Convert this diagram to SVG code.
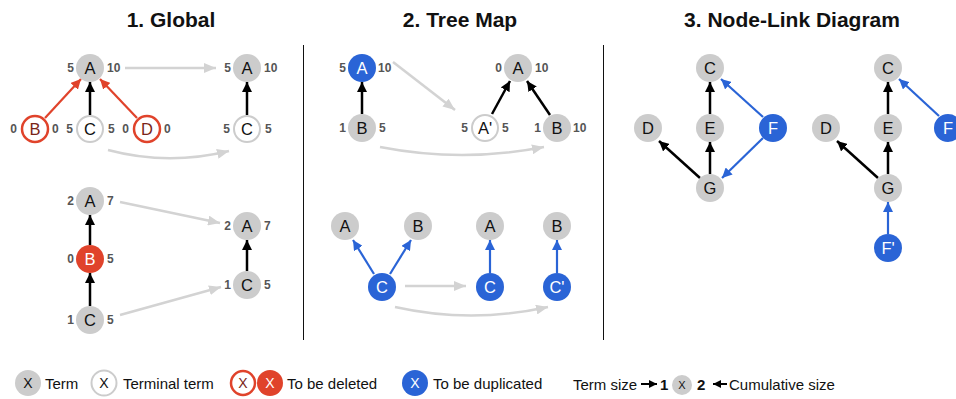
<svg xmlns="http://www.w3.org/2000/svg" width="956" height="399" viewBox="0 0 956 399">
<defs>
<style>
text{font-family:"Liberation Sans",Arial,sans-serif}
.title{font-size:21px;font-weight:bold;fill:#111;text-anchor:middle}
.nl{font-size:16.5px;text-anchor:middle;fill:#111}
.nw{font-size:16.5px;text-anchor:middle;fill:#fff}
.num{font-size:12px;font-weight:bold;fill:#555}
.l{text-anchor:end}
.g{fill:#cccccc}
.t{fill:#fff;stroke:#cccccc;stroke-width:2}
.rd{fill:#fff;stroke:#e0432b;stroke-width:2.5}
.rf{fill:#e0432b}
.bf{fill:#2a64d6}
.ek{stroke:#000;stroke-width:2.5;fill:none}
.er{stroke:#e0432b;stroke-width:2.2;fill:none}
.eb{stroke:#2a64d6;stroke-width:2.2;fill:none}
.eg{stroke:#d3d3d3;stroke-width:2.5;fill:none}
.leg{font-size:15px;fill:#111}
.lx{font-size:14px}
.div{stroke:#111;stroke-width:1}
</style>
<marker id="ak" markerWidth="10" markerHeight="10" refX="10" refY="5" orient="auto" markerUnits="userSpaceOnUse"><path d="M0,0 L10,5 L0,10 Z" fill="#000"/></marker>
<marker id="ar" markerWidth="10" markerHeight="10" refX="10" refY="5" orient="auto" markerUnits="userSpaceOnUse"><path d="M0,0 L10,5 L0,10 Z" fill="#e0432b"/></marker>
<marker id="ab" markerWidth="10" markerHeight="10" refX="10" refY="5" orient="auto" markerUnits="userSpaceOnUse"><path d="M0,0 L10,5 L0,10 Z" fill="#2a64d6"/></marker>
<marker id="ag" markerWidth="12" markerHeight="10" refX="12" refY="5" orient="auto" markerUnits="userSpaceOnUse"><path d="M0,0 L12,5 L0,10 Z" fill="#d3d3d3"/></marker>
<marker id="as" markerWidth="8" markerHeight="8" refX="8" refY="4" orient="auto" markerUnits="userSpaceOnUse"><path d="M0,0 L8,4 L0,8 Z" fill="#000"/></marker>
</defs>
<rect width="956" height="399" fill="#fff"/>

<text class="title" x="171" y="27">1. Global</text>
<text class="title" x="460" y="27">2. Tree Map</text>
<text class="title" x="792" y="27">3. Node-Link Diagram</text>

<line class="div" x1="303.5" y1="45" x2="303.5" y2="340"/>
<line class="div" x1="603.5" y1="45" x2="603.5" y2="340"/>

<g id="connectors">
<line class="er" x1="45" y1="118" x2="81" y2="79" marker-end="url(#ar)"/>
<line class="ek" x1="90" y1="115" x2="90" y2="82" marker-end="url(#ak)"/>
<line class="er" x1="137" y1="118" x2="100" y2="79" marker-end="url(#ar)"/>
<line class="eg" x1="125" y1="68" x2="216" y2="68" marker-end="url(#ag)"/>
<path class="eg" d="M108,150 Q168,166 229,151" marker-end="url(#ag)"/>
<line class="ek" x1="247" y1="115" x2="247" y2="82" marker-end="url(#ak)"/>
<line class="ek" x1="90" y1="245" x2="90" y2="215" marker-end="url(#ak)"/>
<line class="ek" x1="90" y1="306" x2="90" y2="273" marker-end="url(#ak)"/>
<line class="eg" x1="120" y1="202" x2="220" y2="223" marker-end="url(#ag)"/>
<line class="eg" x1="120" y1="315" x2="221" y2="287" marker-end="url(#ag)"/>
<line class="ek" x1="247" y1="271" x2="247" y2="240" marker-end="url(#ak)"/>
<line class="ek" x1="362" y1="114" x2="362" y2="82" marker-end="url(#ak)"/>
<line class="eg" x1="393" y1="62" x2="455" y2="110" marker-end="url(#ag)"/>
<path class="eg" d="M380,147 Q462,163 544,147" marker-end="url(#ag)"/>
<line class="ek" x1="492" y1="114" x2="510" y2="81" marker-end="url(#ak)"/>
<line class="ek" x1="550" y1="115" x2="527" y2="81" marker-end="url(#ak)"/>
<line class="eb" x1="374" y1="274" x2="353" y2="240" marker-end="url(#ab)"/>
<line class="eb" x1="390" y1="274" x2="411" y2="240" marker-end="url(#ab)"/>
<line class="eg" x1="405" y1="286" x2="466" y2="286" marker-end="url(#ag)"/>
<path class="eg" d="M395,307 Q471,324 548,307" marker-end="url(#ag)"/>
<line class="eb" x1="490" y1="273" x2="490" y2="240" marker-end="url(#ab)"/>
<line class="eb" x1="557" y1="273" x2="557" y2="240" marker-end="url(#ab)"/>
<line class="ek" x1="710" y1="114" x2="710" y2="82" marker-end="url(#ak)"/>
<line class="ek" x1="710" y1="174" x2="710" y2="142" marker-end="url(#ak)"/>
<line class="ek" x1="700" y1="178" x2="659" y2="141" marker-end="url(#ak)"/>
<line class="eb" x1="763" y1="117" x2="721" y2="79" marker-end="url(#ab)"/>
<line class="eb" x1="763" y1="138" x2="722" y2="178" marker-end="url(#ab)"/>
<line class="ek" x1="888" y1="114" x2="888" y2="82" marker-end="url(#ak)"/>
<line class="ek" x1="888" y1="174" x2="888" y2="142" marker-end="url(#ak)"/>
<line class="ek" x1="878" y1="178" x2="837" y2="141" marker-end="url(#ak)"/>
<line class="eb" x1="939" y1="116" x2="899" y2="79" marker-end="url(#ab)"/>
<line class="eb" x1="888" y1="234" x2="888" y2="202" marker-end="url(#ab)"/>
<line x1="641" y1="384" x2="657" y2="384" stroke="#000" stroke-width="2" marker-end="url(#as)"/>
<line x1="727" y1="384" x2="713" y2="384" stroke="#000" stroke-width="2" marker-end="url(#as)"/>
</g>

<g id="g1A"><circle class="g" cx="90" cy="68" r="14"/><text class="nl" x="90" y="74">A</text><text class="num l" x="74" y="72">5</text><text class="num" x="107" y="72">10</text></g>
<g id="g1B"><circle class="rd" cx="35" cy="129" r="13"/><text class="nl" x="35" y="135" style="fill:#7a2518">B</text><text class="num l" x="17" y="133">0</text><text class="num" x="52" y="133">0</text></g>
<g id="g1C"><circle class="t" cx="90" cy="129" r="13"/><text class="nl" x="90" y="135">C</text><text class="num l" x="73" y="133">5</text><text class="num" x="108" y="133">5</text></g>
<g id="g1D"><circle class="rd" cx="147" cy="129" r="13"/><text class="nl" x="147" y="135" style="fill:#7a2518">D</text><text class="num l" x="129" y="133">0</text><text class="num" x="164" y="133">0</text></g>
<g id="g1A2"><circle class="g" cx="247" cy="68" r="14"/><text class="nl" x="247" y="74">A</text><text class="num l" x="231" y="72">5</text><text class="num" x="264" y="72">10</text></g>
<g id="g1C2"><circle class="t" cx="247" cy="129" r="13"/><text class="nl" x="247" y="135">C</text><text class="num l" x="230" y="133">5</text><text class="num" x="265" y="133">5</text></g>

<g id="g2A"><circle class="g" cx="90" cy="201" r="14"/><text class="nl" x="90" y="207">A</text><text class="num l" x="74" y="205">2</text><text class="num" x="107" y="205">7</text></g>
<g id="g2B"><circle class="rf" cx="90" cy="259" r="14"/><text class="nw" x="90" y="265">B</text><text class="num l" x="74" y="263">0</text><text class="num" x="107" y="263">5</text></g>
<g id="g2C"><circle class="g" cx="90" cy="320" r="14"/><text class="nl" x="90" y="326">C</text><text class="num l" x="74" y="324">1</text><text class="num" x="107" y="324">5</text></g>
<g id="g2A2"><circle class="g" cx="247" cy="226" r="14"/><text class="nl" x="247" y="232">A</text><text class="num l" x="231" y="230">2</text><text class="num" x="264" y="230">7</text></g>
<g id="g2C2"><circle class="g" cx="247" cy="285" r="14"/><text class="nl" x="247" y="291">C</text><text class="num l" x="231" y="289">1</text><text class="num" x="264" y="289">5</text></g>

<g id="t1A"><circle class="bf" cx="362" cy="68" r="14"/><text class="nw" x="362" y="74">A</text><text class="num l" x="346" y="72">5</text><text class="num" x="378" y="72">10</text></g>
<g id="t1B"><circle class="g" cx="362" cy="128" r="14"/><text class="nl" x="362" y="134">B</text><text class="num l" x="346" y="132">1</text><text class="num" x="379" y="132">5</text></g>
<g id="t1A2"><circle class="g" cx="518" cy="68" r="14"/><text class="nl" x="518" y="74">A</text><text class="num l" x="502" y="72">0</text><text class="num" x="535" y="72">10</text></g>
<g id="t1Ap"><circle class="t" cx="485" cy="128" r="13"/><text class="nl" x="485" y="134">A'</text><text class="num l" x="468" y="132">5</text><text class="num" x="502" y="132">5</text></g>
<g id="t1B2"><circle class="g" cx="557" cy="128" r="14"/><text class="nl" x="557" y="134">B</text><text class="num l" x="541" y="132">1</text><text class="num" x="573" y="132">10</text></g>

<g id="t2A"><circle class="g" cx="345" cy="226" r="14"/><text class="nl" x="345" y="232">A</text></g>
<g id="t2B"><circle class="g" cx="418" cy="226" r="14"/><text class="nl" x="418" y="232">B</text></g>
<g id="t2C"><circle class="bf" cx="382" cy="287" r="14"/><text class="nw" x="382" y="293">C</text></g>
<g id="t2A2"><circle class="g" cx="490" cy="226" r="14"/><text class="nl" x="490" y="232">A</text></g>
<g id="t2B2"><circle class="g" cx="557" cy="226" r="14"/><text class="nl" x="557" y="232">B</text></g>
<g id="t2C2"><circle class="bf" cx="490" cy="287" r="14"/><text class="nw" x="490" y="293">C</text></g>
<g id="t2Cp"><circle class="bf" cx="557" cy="287" r="14"/><text class="nw" x="557" y="293">C'</text></g>

<g id="n1C"><circle class="g" cx="710" cy="68" r="14"/><text class="nl" x="710" y="74">C</text></g>
<g id="n1D"><circle class="g" cx="648" cy="128" r="14"/><text class="nl" x="648" y="134">D</text></g>
<g id="n1E"><circle class="g" cx="710" cy="128" r="14"/><text class="nl" x="710" y="134">E</text></g>
<g id="n1F"><circle class="bf" cx="773" cy="128" r="14"/><text class="nw" x="773" y="134">F</text></g>
<g id="n1G"><circle class="g" cx="710" cy="188" r="14"/><text class="nl" x="710" y="194">G</text></g>

<g id="n2C"><circle class="g" cx="888" cy="68" r="14"/><text class="nl" x="888" y="74">C</text></g>
<g id="n2D"><circle class="g" cx="826" cy="128" r="14"/><text class="nl" x="826" y="134">D</text></g>
<g id="n2E"><circle class="g" cx="888" cy="128" r="14"/><text class="nl" x="888" y="134">E</text></g>
<g id="n2F"><circle class="bf" cx="948" cy="128" r="14"/><text class="nw" x="948" y="134">F</text></g>
<g id="n2G"><circle class="g" cx="888" cy="188" r="14"/><text class="nl" x="888" y="194">G</text></g>
<g id="n2Fp"><circle class="bf" cx="888" cy="248" r="14"/><text class="nw" x="888" y="254">F'</text></g>

<g id="legend">
<circle class="g" cx="28" cy="383" r="13"/><text class="nl lx" x="28" y="388">X</text>
<text class="leg" x="45" y="389">Term</text>
<circle class="t" cx="104" cy="383" r="12.5"/><text class="nl lx" x="104" y="388">X</text>
<text class="leg" x="123" y="389">Terminal term</text>
<circle class="rd" cx="243" cy="383" r="12"/><text class="nl lx" x="243" y="388" style="fill:#7a2518">X</text>
<circle class="rf" cx="270" cy="383" r="13"/><text class="nw lx" x="270" y="388">X</text>
<text class="leg" x="287" y="389">To be deleted</text>
<circle class="bf" cx="415" cy="383" r="13"/><text class="nw lx" x="415" y="388">X</text>
<text class="leg" x="433" y="389">To be duplicated</text>
<text class="leg" x="573" y="390">Term size</text>
<text class="leg" x="660" y="390" style="font-weight:bold">1</text>
<circle class="g" cx="682" cy="385" r="10"/><text class="nl" x="682" y="389" style="font-size:11px">X</text>
<text class="leg" x="697" y="390" style="font-weight:bold">2</text>
<text class="leg" x="729" y="390">Cumulative size</text>
</g>
</svg>
